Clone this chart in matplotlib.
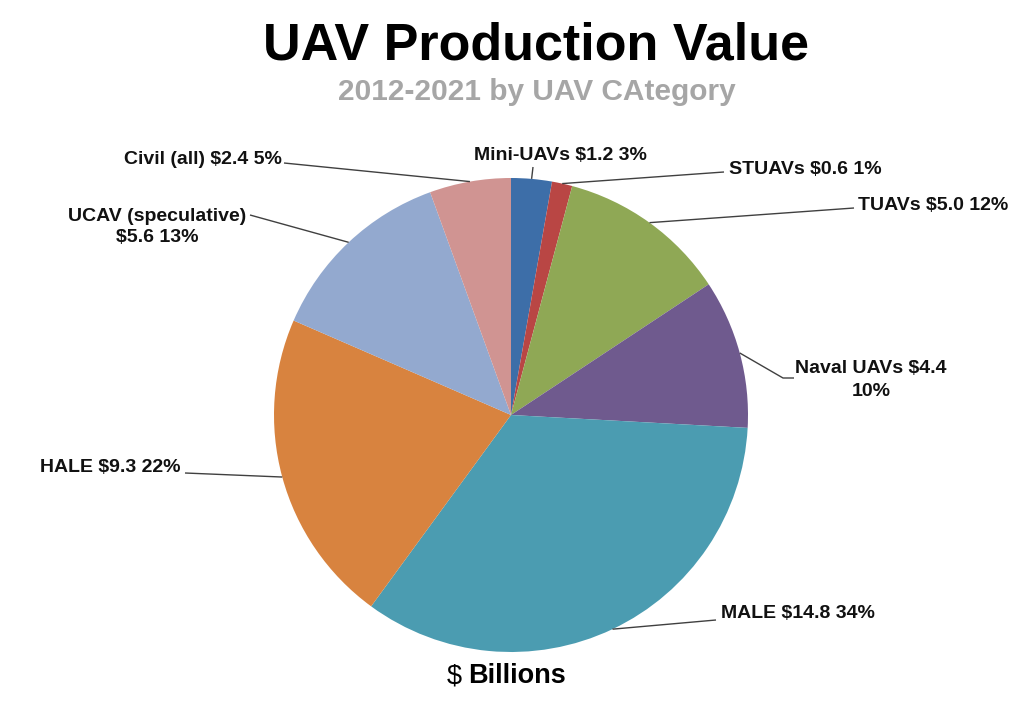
import matplotlib
matplotlib.use("Agg")
import matplotlib.pyplot as plt
import numpy as np

plt.rcParams['font.family'] = ['Liberation Sans', 'DejaVu Sans']

categories = ["Mini-UAVs", "STUAVs", "TUAVs", "Naval UAVs", "MALE", "HALE",
              "UCAV (speculative)", "Civil (all)"]
values = [1.2, 0.6, 5.0, 4.4, 14.8, 9.3, 5.6, 2.4]
pct_labels = ["3%", "1%", "12%", "10%", "34%", "22%", "13%", "5%"]
colors = ["#3d6ea8", "#b94644", "#8fa855", "#6f5a8e", "#4b9cb1", "#d8833f",
          "#93a9cf", "#d09492"]

W, H = 1024, 710
fig = plt.figure(figsize=(W / 100, H / 100), dpi=100)
ax = fig.add_axes([0, 0, 1, 1])

cx, cy, R = 511, H - 415, 237
ax.pie(values, colors=colors, startangle=90, counterclock=False,
       center=(cx, cy), radius=R, frame=True,
       wedgeprops=dict(linewidth=0))
ax.set_xlim(0, W)
ax.set_ylim(0, H)
ax.axis('off')

# label layout: text pos (px from top-left), ha, line spacing, line points after the wedge anchor (px)
layout = [
    dict(t=(560, 156), ha='center', ls=1.2, pts=[(533, 167)]),
    dict(t=(729, 169), ha='left', ls=1.2, pts=[(724, 172)]),
    dict(t=(858, 205), ha='left', ls=1.2, pts=[(854, 208)]),
    dict(t=(871, 380), ha='center', ls=1.5, pts=[(783, 378), (794, 378)]),
    dict(t=(721, 614), ha='left', ls=1.2, pts=[(716, 620)]),
    dict(t=(181, 468), ha='right', ls=1.2, pts=[(185, 473)]),
    dict(t=(157, 227), ha='center', ls=1.35, pts=[(250, 215)]),
    dict(t=(282, 159), ha='right', ls=1.2, pts=[(284, 163)]),
]

total = sum(values)
cum = 0.0
for i, (name, v, p) in enumerate(zip(categories, values, pct_labels)):
    mid = cum + v / 2
    cum += v
    ang = np.deg2rad(90 - 360 * mid / total)
    a_x = cx + R * np.cos(ang)
    a_y = cy + R * np.sin(ang)
    if name == "Naval UAVs":
        txt = f"{name} ${v}\n{p}"
    elif name == "UCAV (speculative)":
        txt = f"{name}\n${v} {p}"
    else:
        txt = f"{name} ${v} {p}"
    L = layout[i]
    xs = [a_x] + [q[0] for q in L['pts']]
    ys = [a_y] + [H - q[1] for q in L['pts']]
    ax.plot(xs, ys, color='#404040', lw=1.0, solid_capstyle='butt')
    ax.text(L['t'][0], H - L['t'][1], txt, ha=L['ha'], va='center',
            fontsize=14, fontweight='bold', color='#111111',
            multialignment='center', linespacing=L['ls'])

fig.text(536 / W, 1 - 46 / H, "UAV Production Value", ha='center', va='center',
         fontsize=37.5, fontweight='bold', color='black')
fig.text(537 / W, 1 - 92 / H, "2012-2021 by UAV CAtegory", ha='center', va='center',
         fontsize=21.5, fontweight='bold', color='#a6a6a6')
fig.text(462 / W, 1 - 676 / H, "$", ha='right', va='center',
         fontsize=19.5, fontweight='normal', color='black')
fig.text(468 / W, 1 - 676 / H, "Billions", ha='left', va='center',
         fontsize=19.5, fontweight='bold', color='black')

fig.savefig("out.png", dpi=100, facecolor='white')
